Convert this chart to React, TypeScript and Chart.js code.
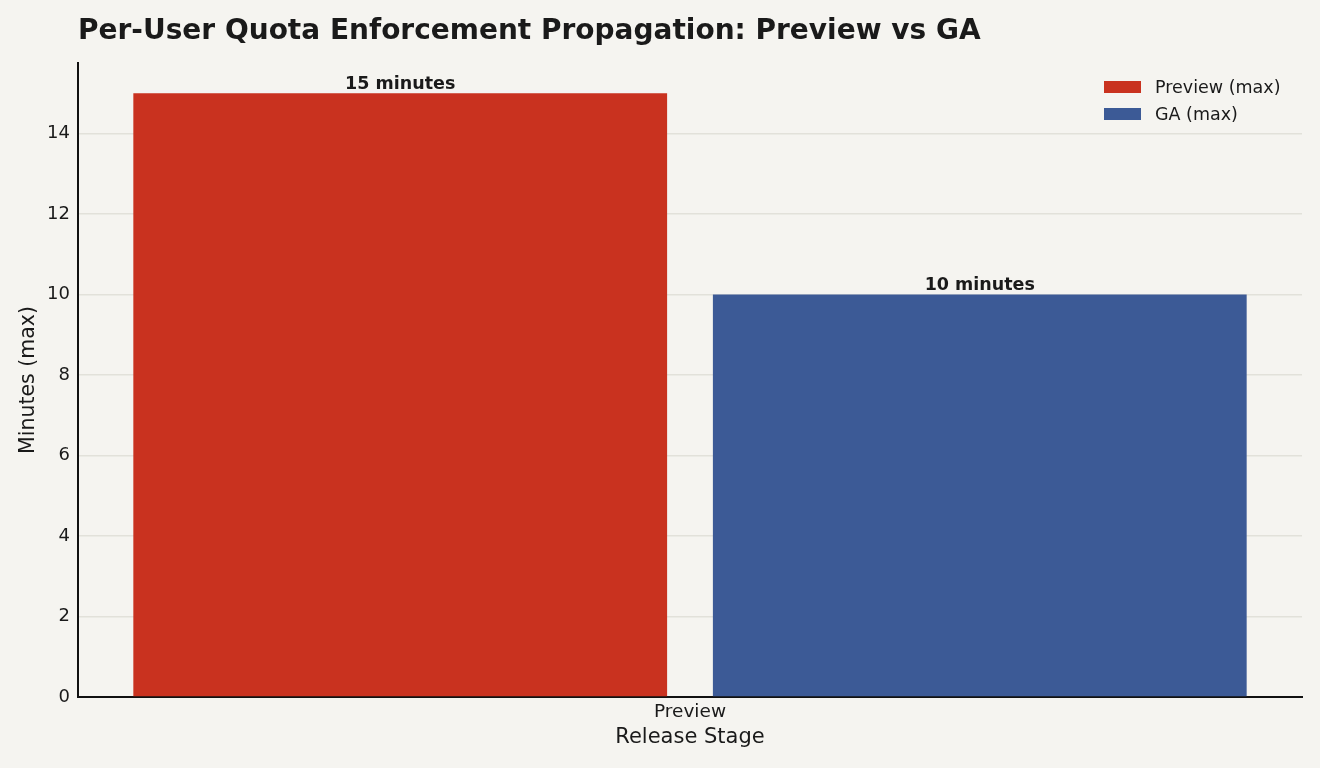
import React, { useEffect, useRef } from 'react';
import { Chart, registerables, Plugin } from 'chart.js';

Chart.register(...registerables);

const categories = ['Preview'];
const seriesLabels = ['Preview (max)', 'GA (max)'];
const previewValues = [15];
const gaValues = [10];
const seriesColors = ['#c9321f', '#3c5a96'];
const yTicks = [0, 2, 4, 6, 8, 10, 12, 14];
const yMax = 15.75;

const FONT = '"DejaVu Sans", sans-serif';
const INK = '#1a1a1a';

// title, value labels and the legend drawn on the canvas
const overlayPlugin: Plugin<'bar'> = {
    id: 'overlay',
    afterDatasetsDraw: (chart) => {
        const ctx = chart.ctx;
        ctx.save();
        ctx.fillStyle = INK;
        ctx.font = `bold 17.5px ${FONT}`;
        ctx.textAlign = 'center';
        ctx.textBaseline = 'alphabetic';
        chart.data.datasets.forEach((ds, i) => {
            const meta = chart.getDatasetMeta(i);
            meta.data.forEach((bar, j) => {
                const v = ds.data[j] as number;
                ctx.fillText(`${v} minutes`, bar.x, bar.y - 4);
            });
        });
        ctx.restore();
    },
    afterDraw: (chart) => {
        const ctx = chart.ctx;
        ctx.save();
        ctx.fillStyle = INK;
        ctx.font = `bold 28px ${FONT}`;
        ctx.textAlign = 'left';
        ctx.textBaseline = 'middle';
        ctx.fillText('Per-User Quota Enforcement Propagation: Preview vs GA', 78, 32);

        ctx.font = `17.5px ${FONT}`;
        chart.data.datasets.forEach((ds, i) => {
            const y = 87 + i * 27;
            ctx.fillStyle = ds.backgroundColor as string;
            ctx.fillRect(1104, y - 6, 37, 12);
            ctx.fillStyle = INK;
            ctx.fillText(ds.label as string, 1155, y + 1);
        });
        ctx.restore();
    },
};

const App: React.FC = () => {
    const chartRef = useRef<HTMLCanvasElement | null>(null);

    useEffect(() => {
        document.body.style.margin = '0';
        document.body.style.background = '#f5f4f0';
        if (!chartRef.current) return;

        const chart = new Chart(chartRef.current, {
            type: 'bar',
            data: {
                labels: categories,
                datasets: [
                    {
                        label: seriesLabels[0],
                        data: previewValues,
                        backgroundColor: seriesColors[0],
                        categoryPercentage: 0.947,
                        barPercentage: 0.921,
                    },
                    {
                        label: seriesLabels[1],
                        data: gaValues,
                        backgroundColor: seriesColors[1],
                        categoryPercentage: 0.947,
                        barPercentage: 0.921,
                    },
                ],
            },
            options: {
                responsive: true,
                maintainAspectRatio: false,
                animation: false,
                layout: { padding: { left: 0, right: 18, top: 63, bottom: 0 } },
                scales: {
                    x: {
                        grid: { display: false, drawTicks: false },
                        border: { display: true, color: '#111111', width: 2 },
                        ticks: { color: INK, font: { family: FONT, size: 18.5 }, padding: 4 },
                        title: {
                            display: true,
                            text: 'Release Stage',
                            color: INK,
                            font: { family: FONT, size: 21 },
                            padding: { top: 0, bottom: 18 },
                        },
                        afterFit: (axis) => { axis.height = 71; },
                    },
                    y: {
                        min: 0,
                        max: yMax,
                        afterBuildTicks: (axis) => { axis.ticks = yTicks.map(v => ({ value: v })); },
                        grid: { color: '#e2e1da', lineWidth: 1.5, drawTicks: false },
                        border: { display: true, color: '#111111', width: 2 },
                        ticks: { color: INK, font: { family: FONT, size: 18 }, padding: 8 },
                        title: {
                            display: true,
                            text: 'Minutes (max)',
                            color: INK,
                            font: { family: FONT, size: 20.5 },
                            padding: { top: 16, bottom: 0 },
                        },
                        afterFit: (axis) => { axis.width = 78; },
                    },
                },
                plugins: {
                    legend: { display: false },
                    title: { display: false },
                    tooltip: { enabled: false },
                },
            },
            plugins: [overlayPlugin],
        });

        return () => {
            chart.destroy();
        };
    }, []);

    return (
        <div style={{ width: 1320, height: 768, background: '#f5f4f0', position: 'relative' }}>
            <canvas ref={chartRef}></canvas>
        </div>
    );
};

export default App;
